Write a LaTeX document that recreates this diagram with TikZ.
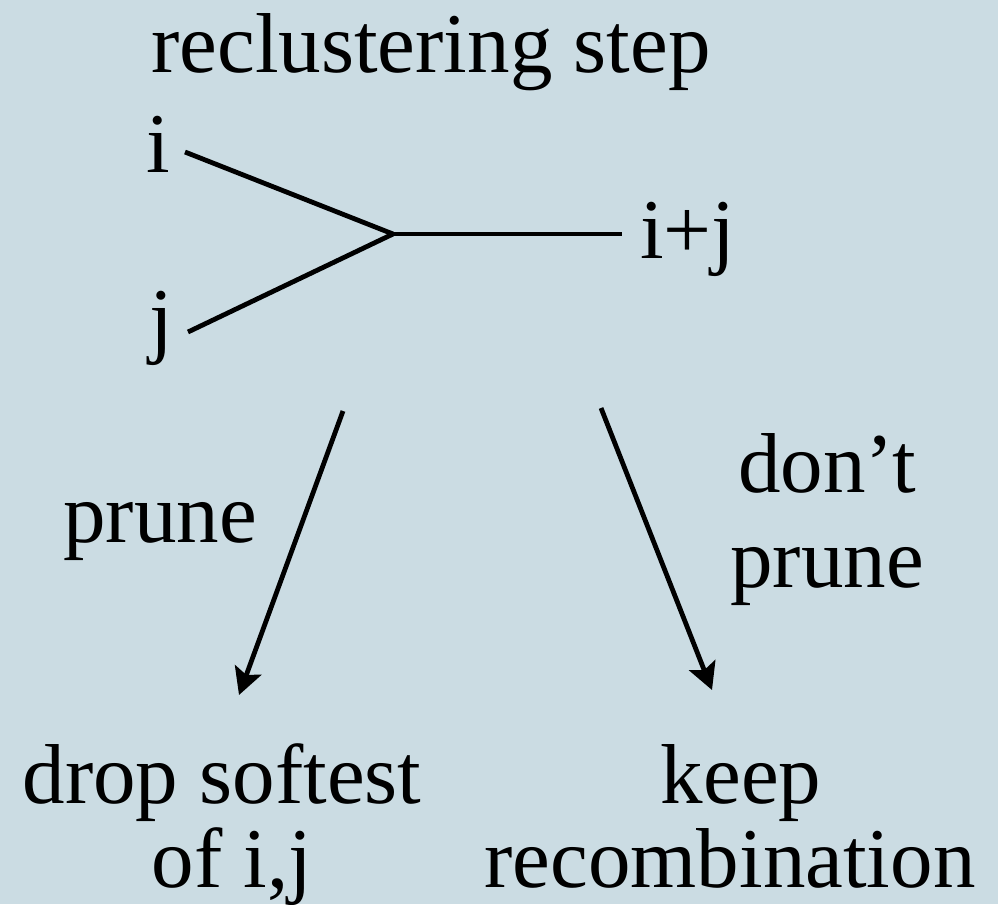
\documentclass[tikz,border=0pt]{standalone}
\usepackage{fontspec}
\setmainfont{Liberation Serif}
\usetikzlibrary{arrows.meta}
\definecolor{bgblue}{RGB}{203,220,227}
\begin{document}
\begin{tikzpicture}[x=0.75pt,y=-0.75pt,
  lbl/.style={anchor=base,inner sep=0pt,font=\fontsize{63.75}{70}\selectfont},
  edge/.style={line width=3.6pt,black},
  arr/.style={edge,-{Stealth[length=20pt,width=21pt,inset=4pt]}}]
\fill[bgblue] (0,0) rectangle (998,904);
\useasboundingbox (0,0) rectangle (998,904);
% labels
\node[lbl] (title) at (431,72) {reclustering step};
\node[lbl] (ni) at (158,172) {i};
\node[lbl] (nj) at (161,347) {j};
\node[lbl,anchor=base west] (nij) at (640,258) {i+j};
\node[lbl] (prL) at (160,542) {prune};
\node[lbl] (dont) at (827,492) {don’t};
\node[lbl] (prR) at (827,587) {prune};
\node[lbl] (drop) at (222,803) {drop softest};
\node[lbl] (ofij) at (232,887) {of i,j};
\node[lbl] (keep) at (741,803) {keep};
\node[lbl] (recomb) at (730,887) {recombination};
% line ends
\coordinate (ci) at (185,152);
\coordinate (cj) at (188,332);
\coordinate (vx) at (393,234);
\coordinate (ce) at (622,234);
\coordinate (a1s) at (343,411);
\coordinate (a1e) at (239,695);
\coordinate (a2s) at (601,408);
\coordinate (a2e) at (712,690);
% vertex
\draw[edge] (ci) -- (vx);
\draw[edge] (cj) -- (vx);
\draw[edge] (vx) -- (ce);
% arrows
\draw[arr] (a1s) -- (a1e);
\draw[arr] (a2s) -- (a2e);
\end{tikzpicture}
\end{document}
